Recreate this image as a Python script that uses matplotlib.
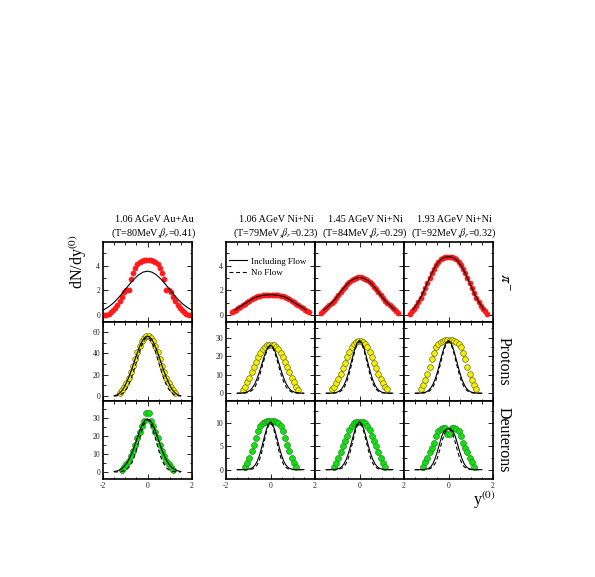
import matplotlib
matplotlib.use("Agg")
import matplotlib.pyplot as plt
from matplotlib.lines import Line2D
from matplotlib.ticker import MultipleLocator

plt.rcParams["font.family"] = ["Liberation Serif", "DejaVu Serif"]
plt.rcParams["mathtext.fontset"] = "stix"
plt.rcParams["axes.unicode_minus"] = False

# ---------------- data ----------------
titles = [("1.06 AGeV Au+Au", r"(T=80MeV,$\beta_r$=0.41)"),
          ("1.06 AGeV Ni+Ni", r"(T=79MeV,$\beta_r$=0.23)"),
          ("1.45 AGeV Ni+Ni", r"(T=84MeV,$\beta_r$=0.29)"),
          ("1.93 AGeV Ni+Ni", r"(T=92MeV,$\beta_r$=0.32)")]
row_names = [r"$\pi^{-}$", "Protons", "Deuterons"]

# rapidity of the measured points
pi_x_auau = [-1.95, -1.85, -1.75, -1.65, -1.55, -1.45, -1.35, -1.25, -1.15, -1.05,
             -0.95, -0.85, -0.75, -0.65, -0.55, -0.45, -0.35, -0.25, -0.15, -0.05,
             0.05, 0.15, 0.25, 0.35, 0.45, 0.55, 0.65, 0.75, 0.85, 0.95,
             1.05, 1.15, 1.25, 1.35, 1.45, 1.55, 1.65, 1.75, 1.85, 1.95]
pi_x_ni = [-1.75, -1.65, -1.55, -1.45, -1.35, -1.25, -1.15, -1.05, -0.95,
           -0.85, -0.75, -0.65, -0.55, -0.45, -0.35, -0.25, -0.15, -0.05,
           0.05, 0.15, 0.25, 0.35, 0.45, 0.55, 0.65, 0.75, 0.85,
           0.95, 1.05, 1.15, 1.25, 1.35, 1.45, 1.55, 1.65, 1.75]
p_x = [-1.25, -1.15, -1.05, -0.95, -0.85, -0.75, -0.65, -0.55, -0.45, -0.35, -0.25, -0.15, -0.05,
       0.05, 0.15, 0.25, 0.35, 0.45, 0.55, 0.65, 0.75, 0.85, 0.95, 1.05, 1.15, 1.25]
d_x = [-1.15, -1.05, -0.95, -0.85, -0.75, -0.65, -0.55, -0.45, -0.35, -0.25, -0.15, -0.05,
       0.05, 0.15, 0.25, 0.35, 0.45, 0.55, 0.65, 0.75, 0.85, 0.95, 1.05, 1.15]

# rapidity of the model curves
pi_line_x_auau = [-2.0, -1.8, -1.6, -1.4, -1.2, -1.0, -0.8, -0.6, -0.4, -0.2, 0.0,
                  0.2, 0.4, 0.6, 0.8, 1.0, 1.2, 1.4, 1.6, 1.8, 2.0]
pi_line_x_ni = [-1.6, -1.4, -1.2, -1.0, -0.8, -0.6, -0.4, -0.2, 0.0,
                0.2, 0.4, 0.6, 0.8, 1.0, 1.2, 1.4, 1.6]
line_x = [-1.5, -1.4, -1.3, -1.2, -1.1, -1.0, -0.9, -0.8, -0.7, -0.6, -0.5, -0.4, -0.3, -0.2, -0.1, 0.0,
          0.1, 0.2, 0.3, 0.4, 0.5, 0.6, 0.7, 0.8, 0.9, 1.0, 1.1, 1.2, 1.3, 1.4, 1.5]

# pi- data
pi_auau = [0.0, 0.03, 0.1, 0.22, 0.4, 0.6, 0.85, 1.15, 1.5, 1.9, 2.0, 2.05, 2.9, 3.4, 3.8, 4.1, 4.3, 4.4, 4.45, 4.45,
           4.45, 4.45, 4.4, 4.3, 4.1, 3.8, 3.4, 2.9, 2.05, 2.0, 1.9, 1.5, 1.15, 0.85, 0.6, 0.4, 0.22, 0.1, 0.03, 0.0]
pi_ni106 = [0.22, 0.32, 0.45, 0.57, 0.68, 0.8, 0.92, 1.03, 1.15, 1.27, 1.38, 1.47, 1.53, 1.58, 1.61, 1.63, 1.65, 1.66,
            1.66, 1.65, 1.63, 1.61, 1.58, 1.53, 1.47, 1.38, 1.27, 1.15, 1.03, 0.92, 0.8, 0.68, 0.57, 0.45, 0.32, 0.22]
pi_ni145 = [0.15, 0.3, 0.5, 0.65, 0.8, 0.98, 1.15, 1.38, 1.6, 1.85, 2.1, 2.3, 2.5, 2.68, 2.82, 2.93, 3.0, 3.05,
            3.05, 3.0, 2.93, 2.82, 2.68, 2.5, 2.3, 2.1, 1.85, 1.6, 1.38, 1.15, 0.98, 0.8, 0.65, 0.5, 0.3, 0.15]
pi_ni193 = [0.12, 0.3, 0.48, 0.75, 1.05, 1.4, 1.8, 2.2, 2.6, 3.0, 3.4, 3.75, 4.05, 4.3, 4.5, 4.62, 4.7, 4.72,
            4.72, 4.7, 4.62, 4.5, 4.3, 4.05, 3.75, 3.4, 3.0, 2.6, 2.2, 1.8, 1.4, 1.05, 0.75, 0.48, 0.3, 0.12]

pi_auau_flow = [0.40, 0.61, 0.88, 1.22, 1.62, 2.06, 2.51, 2.92, 3.25, 3.47, 3.55,
                3.47, 3.25, 2.92, 2.51, 2.06, 1.62, 1.22, 0.88, 0.61, 0.40]
pi_ni106_flow = [0.42, 0.65, 0.88, 1.1, 1.33, 1.49, 1.58, 1.63, 1.65, 1.63, 1.58, 1.49, 1.33, 1.1, 0.88, 0.65, 0.42]
pi_ni145_flow = [0.42, 0.72, 1.08, 1.5, 1.98, 2.42, 2.75, 2.97, 3.05, 2.97, 2.75, 2.42, 1.98, 1.5, 1.08, 0.72, 0.42]
pi_ni193_flow = [0.45, 0.95, 1.6, 2.4, 3.2, 3.9, 4.4, 4.65, 4.72, 4.65, 4.4, 3.9, 3.2, 2.4, 1.6, 0.95, 0.45]

# proton data
p_auau = [3.2, 5.5, 8.5, 12.5, 17, 22.5, 28.5, 35, 41, 46.5, 51, 54.5, 56,
          56, 54.5, 51, 46.5, 41, 35, 28.5, 22.5, 17, 12.5, 8.5, 5.5, 3.2]
p_ni106 = [2.0, 3.6, 5.8, 8.5, 11.3, 14.2, 17, 19.6, 21.8, 23.7, 25, 25.8, 26.2,
           26.2, 25.8, 25, 23.7, 21.8, 19.6, 17, 14.2, 11.3, 8.5, 5.8, 3.6, 2.0]
p_ni145 = [2.2, 3.6, 5.4, 7.7, 10.5, 13.4, 16.5, 19.6, 22.4, 24.8, 26.6, 27.8, 28.4,
           28.4, 27.8, 26.6, 24.8, 22.4, 19.6, 16.5, 13.4, 10.5, 7.7, 5.4, 3.6, 2.2]
p_ni193 = [2.5, 4.6, 7.3, 10.5, 14.2, 18.3, 22, 24.9, 26.8, 27.9, 28.5, 28.8, 28.9,
           28.9, 28.8, 28.5, 27.9, 26.8, 24.9, 22, 18.3, 14.2, 10.5, 7.3, 4.6, 2.5]

p_auau_flow = [0.3, 0.9, 2.0, 3.8, 6.5, 10.3, 14.7, 19.7, 25.5, 31.8, 38, 43.8, 48.8, 52.8, 55.2, 56,
               55.2, 52.8, 48.8, 43.8, 38, 31.8, 25.5, 19.7, 14.7, 10.3, 6.5, 3.8, 2.0, 0.9, 0.3]
p_auau_noflow = [0.05, 0.2, 0.6, 1.4, 2.8, 5.0, 8.3, 12.7, 18.2, 24.7, 31.5, 38.5, 45, 50.3, 53.8, 55,
                 53.8, 50.3, 45, 38.5, 31.5, 24.7, 18.2, 12.7, 8.3, 5.0, 2.8, 1.4, 0.6, 0.2, 0.05]
p_ni106_flow = [0, 0.04, 0.1, 0.23, 0.49, 0.97, 1.8, 3.2, 5.2, 8.0, 11.4, 15.4, 19.3, 22.8, 25.2, 26,
                25.2, 22.8, 19.3, 15.4, 11.4, 8.0, 5.2, 3.2, 1.8, 0.97, 0.49, 0.23, 0.1, 0.04, 0]
p_ni106_noflow = [0, 0, 0.02, 0.07, 0.18, 0.43, 0.94, 1.9, 3.4, 5.9, 9.2, 13.3, 17.7, 21.7, 24.5, 25.5,
                  24.5, 21.7, 17.7, 13.3, 9.2, 5.9, 3.4, 1.9, 0.94, 0.43, 0.18, 0.07, 0.02, 0, 0]
p_ni145_flow = [0, 0, 0.04, 0.1, 0.27, 0.6, 1.25, 2.4, 4.3, 7.1, 10.9, 15.4, 20.1, 24.4, 27.4, 28.5,
                27.4, 24.4, 20.1, 15.4, 10.9, 7.1, 4.3, 2.4, 1.25, 0.6, 0.27, 0.1, 0.04, 0, 0]
p_ni145_noflow = [0, 0, 0, 0.04, 0.11, 0.28, 0.68, 1.5, 2.9, 5.4, 8.9, 13.4, 18.5, 23.3, 26.7, 28,
                  26.7, 23.3, 18.5, 13.4, 8.9, 5.4, 2.9, 1.5, 0.68, 0.28, 0.11, 0.04, 0, 0, 0]
p_ni193_flow = [0, 0.02, 0.06, 0.15, 0.34, 0.74, 1.48, 2.75, 4.8, 7.6, 11.4, 15.9, 20.5, 24.6, 27.5, 28.5,
                27.5, 24.6, 20.5, 15.9, 11.4, 7.6, 4.8, 2.75, 1.48, 0.74, 0.34, 0.15, 0.06, 0.02, 0]
p_ni193_noflow = [0, 0, 0.02, 0.06, 0.15, 0.37, 0.84, 1.76, 3.4, 5.9, 9.5, 14.0, 19.0, 23.5, 26.8, 28,
                  26.8, 23.5, 19.0, 14.0, 9.5, 5.9, 3.4, 1.76, 0.84, 0.37, 0.15, 0.06, 0.02, 0, 0]

# deuteron data
d_auau = [1.3, 2.6, 4.2, 6.2, 8.8, 11.8, 15.2, 18.8, 22, 25.5, 28.5, 32.5,
          32.5, 28.5, 25.5, 22, 18.8, 15.2, 11.8, 8.8, 6.2, 4.2, 2.6, 1.3]
d_ni106 = [0.5, 1.5, 2.6, 3.9, 5.3, 6.8, 8.2, 9.3, 9.9, 10.2, 10.4, 10.4,
           10.4, 10.4, 10.2, 9.9, 9.3, 8.2, 6.8, 5.3, 3.9, 2.6, 1.5, 0.5]
d_ni145 = [0.5, 1.4, 2.5, 3.8, 5.0, 6.1, 7.2, 8.4, 9.3, 9.9, 10.2, 10.3,
           10.3, 10.2, 9.9, 9.3, 8.4, 7.2, 6.1, 5.0, 3.8, 2.5, 1.4, 0.5]
d_ni193 = [0.6, 1.6, 2.6, 3.7, 4.7, 5.8, 7.2, 8.2, 8.7, 8.9, 8.9, 7.6,
           7.6, 8.9, 8.9, 8.7, 8.2, 7.2, 5.8, 4.7, 3.7, 2.6, 1.6, 0.6]

d_auau_flow = [0.27, 0.5, 0.87, 1.5, 2.4, 3.7, 5.5, 7.8, 10.6, 13.9, 17.5, 21.1, 24.5, 27.1, 28.9, 29.5,
               28.9, 27.1, 24.5, 21.1, 17.5, 13.9, 10.6, 7.8, 5.5, 3.7, 2.4, 1.5, 0.87, 0.5, 0.27]
d_auau_noflow = [0, 0.03, 0.08, 0.2, 0.44, 0.9, 1.75, 3.2, 5.3, 8.3, 12.2, 16.7, 21.2, 25.3, 28.0, 29,
                 28.0, 25.3, 21.2, 16.7, 12.2, 8.3, 5.3, 3.2, 1.75, 0.9, 0.44, 0.2, 0.08, 0.03, 0]
d_ni106_flow = [0, 0, 0, 0.01, 0.03, 0.08, 0.2, 0.45, 0.93, 1.76, 3.01, 4.67, 6.57, 8.39, 9.71, 10.2,
                9.71, 8.39, 6.57, 4.67, 3.01, 1.76, 0.93, 0.45, 0.2, 0.08, 0.03, 0.01, 0, 0, 0]
d_ni106_noflow = [0, 0, 0, 0, 0, 0.02, 0.06, 0.17, 0.44, 1.0, 2.03, 3.6, 5.63, 7.75, 9.38, 10,
                  9.38, 7.75, 5.63, 3.6, 2.03, 1.0, 0.44, 0.17, 0.06, 0.02, 0, 0, 0, 0, 0]
d_ni145_flow = [0, 0, 0, 0.02, 0.05, 0.13, 0.31, 0.64, 1.22, 2.15, 3.46, 5.11, 6.91, 8.58, 9.77, 10.2,
                9.77, 8.58, 6.91, 5.11, 3.46, 2.15, 1.22, 0.64, 0.31, 0.13, 0.05, 0.02, 0, 0, 0]
d_ni145_noflow = [0, 0, 0, 0, 0, 0.04, 0.11, 0.29, 0.66, 1.35, 2.49, 4.11, 6.07, 8.01, 9.46, 10,
                  9.46, 8.01, 6.07, 4.11, 2.49, 1.35, 0.66, 0.29, 0.11, 0.04, 0, 0, 0, 0, 0]
d_ni193_flow = [0, 0, 0, 0, 0.04, 0.1, 0.25, 0.6, 1.3, 2.4, 3.9, 5.6, 7.2, 8.2, 8.7, 8.85,
                8.7, 8.2, 7.2, 5.6, 3.9, 2.4, 1.3, 0.6, 0.25, 0.1, 0.04, 0, 0, 0, 0]
d_ni193_noflow = [0, 0, 0, 0, 0, 0.03, 0.1, 0.28, 0.65, 1.35, 2.5, 4.1, 5.9, 7.5, 8.4, 8.7,
                  8.4, 7.5, 5.9, 4.1, 2.5, 1.35, 0.65, 0.28, 0.1, 0.03, 0, 0, 0, 0, 0]

# ---------------- layout ----------------
W, H = 595, 577
col_left = [103, 226, 315, 404]
col_w = 89
row_top = [242, 322, 401]
row_h = [80, 79, 78]

fig = plt.figure(figsize=(W / 100, H / 100), dpi=100)

points = [
    [(pi_x_auau, pi_auau), (pi_x_ni, pi_ni106), (pi_x_ni, pi_ni145), (pi_x_ni, pi_ni193)],
    [(p_x, p_auau), (p_x, p_ni106), (p_x, p_ni145), (p_x, p_ni193)],
    [(d_x, d_auau), (d_x, d_ni106), (d_x, d_ni145), (d_x, d_ni193)],
]
flow = [
    [(pi_line_x_auau, pi_auau_flow), (pi_line_x_ni, pi_ni106_flow),
     (pi_line_x_ni, pi_ni145_flow), (pi_line_x_ni, pi_ni193_flow)],
    [(line_x, p_auau_flow), (line_x, p_ni106_flow), (line_x, p_ni145_flow), (line_x, p_ni193_flow)],
    [(line_x, d_auau_flow), (line_x, d_ni106_flow), (line_x, d_ni145_flow), (line_x, d_ni193_flow)],
]
noflow = [
    [None, None, None, None],
    [p_auau_noflow, p_ni106_noflow, p_ni145_noflow, p_ni193_noflow],
    [d_auau_noflow, d_ni106_noflow, d_ni145_noflow, d_ni193_noflow],
]

marker_style = [
    dict(mfc="#ff1a1a", mec="#ff1a1a", ms=3.8, mew=0.3),
    dict(mfc="#f5f000", mec="#6e6e10", ms=4.1, mew=0.5),
    dict(mfc="#10e010", mec="#2a8a2a", ms=4.3, mew=0.5),
]

ylims = [[(-0.55, 5.9)] * 4,
         [(-4.6, 69.2)] + [(-4.2, 38.5)] * 3,
         [(-3.9, 39.4)] + [(-2.0, 14.7)] * 3]
yticks = [[[0, 2, 4]] * 4,
          [[0, 20, 40, 60]] + [[0, 10, 20, 30]] * 3,
          [[0, 10, 20, 30]] + [[0, 5, 10]] * 3]
yminor = [[1] * 4, [10, 5, 5, 5], [5, 2.5, 2.5, 2.5]]

axes = []
for r in range(3):
    row = []
    for c in range(4):
        ax = fig.add_axes([col_left[c] / W, 1 - (row_top[r] + row_h[r]) / H, col_w / W, row_h[r] / H])
        px, py = points[r][c]
        ax.plot(px, py, "o", ls="none", zorder=2, **marker_style[r])
        lx, ly = flow[r][c]
        ax.plot(lx, ly, color="black", lw=0.8, zorder=3)
        if noflow[r][c] is not None:
            ax.plot(lx, noflow[r][c], color="black", lw=0.8, ls=(0, (3.5, 2.5)), zorder=3)

        ax.set_xlim(-2, 2)
        ax.set_ylim(*ylims[r][c])
        ax.set_xticks([-2, 0, 2])
        ax.xaxis.set_minor_locator(MultipleLocator(0.5))
        ax.set_yticks(yticks[r][c])
        ax.yaxis.set_minor_locator(MultipleLocator(yminor[r][c]))
        ax.tick_params(which="both", direction="in", top=True, right=True,
                       labelsize=5.5, labelcolor="#222222", pad=2, width=0.6)
        ax.tick_params(which="major", length=3.5)
        ax.tick_params(which="minor", length=1.8)
        for s in ax.spines.values():
            s.set_linewidth(1.2)

        if c > 1:
            ax.set_yticklabels([])
        if r < 2:
            ax.set_xticklabels([])
        elif c > 1:
            ax.set_xticklabels(["", "0", "2"])
        row.append(ax)
    axes.append(row)

# legend in the 1.06 AGeV Ni+Ni pion panel
handles = [Line2D([], [], color="black", lw=0.8),
           Line2D([], [], color="black", lw=0.8, ls=(0, (3.5, 2.5)))]
axes[0][1].legend(handles, ["Including Flow", "No Flow"], loc="upper left",
                  bbox_to_anchor=(0.03, 0.81), frameon=False, fontsize=6.5,
                  handlelength=2.0, handletextpad=0.5, labelspacing=0.35,
                  borderpad=0, borderaxespad=0)

# column titles
title_x = [154, 276, 365, 454]
for c in range(4):
    fig.text(title_x[c] / W, 1 - 220 / H, titles[c][0], ha="center", va="center", fontsize=7.3)
    fig.text(title_x[c] / W, 1 - 233.5 / H, titles[c][1], ha="center", va="center", fontsize=7.3)

# row labels on the right
row_cy = [282, 361, 440]
for r in range(3):
    fig.text(504 / W, 1 - row_cy[r] / H, row_names[r], rotation=-90,
             ha="center", va="center", fontsize=11.5)

fig.text(78 / W, 1 - 262 / H, r"dN/dy$^{(0)}$", rotation=90, ha="center", va="center", fontsize=11.5)
fig.text(484 / W, 1 - 500 / H, r"y$^{(0)}$", ha="center", va="center", fontsize=11.5)

fig.savefig("out.png", dpi=100)
